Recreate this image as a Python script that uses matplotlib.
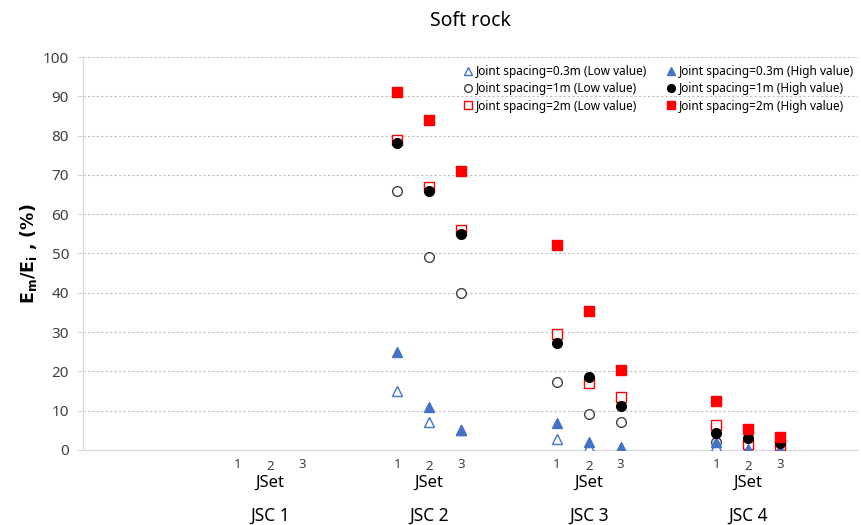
import numpy as np
import matplotlib
matplotlib.use("Agg")
import matplotlib.pyplot as plt
import matplotlib.transforms as mtransforms

plt.rcParams['font.family'] = ['Noto Sans', 'DejaVu Sans']
# only the y label uses mathtext: render it all in bold
plt.rcParams['mathtext.fontset'] = 'custom'
plt.rcParams['mathtext.rm'] = 'DejaVu Sans:bold'
plt.rcParams['mathtext.bf'] = 'DejaVu Sans:bold'

groups = ['JSC 1', 'JSC 2', 'JSC 3', 'JSC 4']
jsets = ['1', '2', '3']

# values per group (JSC 1 has no data), each list = JSet 1,2,3
low_03 = [[np.nan] * 3, [15, 7, 5], [2.7, 0.8, 0.5], [0.9, 0.2, 0.1]]
high_03 = [[np.nan] * 3, [25, 11, 5], [6.9, 2.0, 0.8], [2.0, 0.3, 0.3]]
low_1 = [[np.nan] * 3, [66, 49, 40], [17.2, 9.2, 7.0], [2.1, 1.0, 0.6]]
high_1 = [[np.nan] * 3, [78, 66, 55], [27.1, 18.5, 11.3], [4.2, 3.0, 1.7]]
low_2 = [[np.nan] * 3, [79, 67, 56], [29.4, 17.1, 13.4], [6.3, 1.6, 1.2]]
high_2 = [[np.nan] * 3, [91, 84, 71], [52.2, 35.4, 20.4], [12.4, 5.3, 3.2]]

blue = '#4472C4'
red = '#FF0000'

centers = np.arange(1, len(groups) + 1)
offs = np.array([-0.2, 0.0, 0.2])
xs = (centers[:, None] + offs[None, :]).ravel()

fig = plt.figure(figsize=(8.62, 5.25), dpi=100)
fig.subplots_adjust(left=0.0963, right=0.9954, top=0.8914, bottom=0.1429)
ax = fig.add_subplot(111)

ms = 7
series = [
    (low_03, dict(marker='^', mfc='white', mec=blue, mew=1.0), 'Joint spacing=0.3m (Low value)'),
    (low_1, dict(marker='o', mfc='white', mec='#404040', mew=1.0), 'Joint spacing=1m (Low value)'),
    (low_2, dict(marker='s', mfc='white', mec=red, mew=1.0), 'Joint spacing=2m (Low value)'),
    (high_03, dict(marker='^', mfc=blue, mec=blue, mew=1.0), 'Joint spacing=0.3m (High value)'),
    (high_1, dict(marker='o', mfc='black', mec='black', mew=1.0), 'Joint spacing=1m (High value)'),
    (high_2, dict(marker='s', mfc=red, mec=red, mew=1.0), 'Joint spacing=2m (High value)'),
]
for vals, st, lab in series:
    ax.plot(xs, np.array(vals, dtype=float).ravel(), ls='none', ms=ms, label=lab, zorder=3, **st)

ax.set_xlim(-0.172, 4.69)
ax.set_ylim(0, 100)
ax.set_yticks(np.arange(0, 101, 10))
ax.yaxis.grid(True, ls=(0, (2, 2)), color='#BFBFBF', lw=0.8)
ax.set_xticks([])
for s in ['top', 'right']:
    ax.spines[s].set_visible(False)
for s in ['left', 'bottom']:
    ax.spines[s].set_color('#D9D9D9')
ax.tick_params(axis='y', length=4, color='#D9D9D9', labelsize=11, labelcolor='#404040', pad=6)

ax.set_ylabel(r'E$_\mathrm{m}$/E$_\mathrm{i}$ , (%)', fontsize=12.5, labelpad=3,
              family='DejaVu Sans', fontweight='bold')
ax.set_title('Soft rock', fontsize=14, pad=22)

trans = mtransforms.blended_transform_factory(ax.transData, ax.transAxes)
for i, c in enumerate(centers):
    for j, t in enumerate(jsets):
        yy = -0.043 if j == 1 else -0.036
        ax.text(c + offs[j], yy, t, transform=trans, ha='center', va='center', fontsize=9.5, color='#404040')
    ax.text(c, -0.084, 'JSet', transform=trans, ha='center', va='center', fontsize=12, color='black')
    ax.text(c, -0.167, groups[i], transform=trans, ha='center', va='center', fontsize=12.5, color='black')

ax.legend(loc='upper right', ncol=2, frameon=False, fontsize=8.5, handletextpad=0.1,
          columnspacing=1.6, borderaxespad=0.3, labelspacing=0.35, markerscale=0.8,
          handlelength=1.0, bbox_to_anchor=(1.005, 1.0))

fig.savefig('out.png', dpi=100)
